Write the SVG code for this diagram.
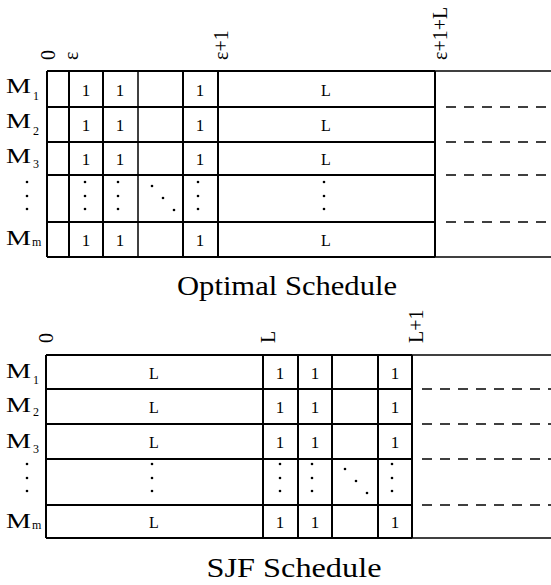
<svg xmlns="http://www.w3.org/2000/svg" width="551" height="585" viewBox="0 0 551 585">
<style>
text{font-family:"Liberation Serif","DejaVu Serif",serif;fill:#000}
.g{stroke:#000;stroke-width:2;fill:none}
.t{stroke:#000;stroke-width:1.5;fill:none}
.d{stroke:#000;stroke-width:1.5;stroke-dasharray:10 8;fill:none}
.c{font-size:17px;text-anchor:middle}
.L{font-size:16px;text-anchor:middle}
.m{font-size:20px}
.s{font-size:12px}
.r{font-size:20px}
.cap{font-size:28px;text-anchor:middle}
.dot{fill:#000}
</style>
<defs>
<g id="vd"><circle cx="0" cy="0" r="1.3" class="dot"/><circle cx="0" cy="14" r="1.3" class="dot"/><circle cx="0" cy="27" r="1.3" class="dot"/></g>
<g id="dd"><circle cx="0" cy="0" r="1.3" class="dot"/><circle cx="11" cy="12" r="1.3" class="dot"/><circle cx="22" cy="24" r="1.3" class="dot"/></g>
</defs>
<rect width="551" height="585" fill="#fff"/>

<g id="optimal">
  <g id="opt-axis">
    <text class="r" transform="translate(55,60) rotate(-90)">0</text>
    <text class="r" transform="translate(78,60) rotate(-90)">ε</text>
    <text class="r" transform="translate(228,60) rotate(-90)">ε+1</text>
    <text class="r" transform="translate(447,60) rotate(-90)">ε+1+L</text>
  </g>
  <g id="opt-grid">
    <line class="g" x1="47" y1="71" x2="435" y2="71"/>
    <line class="t" x1="435" y1="71" x2="551" y2="71"/>
    <line class="g" x1="47" y1="257" x2="435" y2="257"/>
    <line class="t" x1="435" y1="257" x2="551" y2="257"/>
    <line class="g" x1="47" y1="71" x2="47" y2="257"/>
    <line class="g" x1="69" y1="71" x2="69" y2="257"/>
    <line class="g" x1="103" y1="71" x2="103" y2="257"/>
    <line class="t" x1="138" y1="71" x2="138" y2="257"/>
    <line class="g" x1="183" y1="71" x2="183" y2="257"/>
    <line class="g" x1="218" y1="71" x2="218" y2="257"/>
    <line class="g" x1="435" y1="71" x2="435" y2="257"/>
    <line class="g" x1="47" y1="107" x2="435" y2="107"/>
    <line class="g" x1="47" y1="142" x2="435" y2="142"/>
    <line class="g" x1="47" y1="175" x2="435" y2="175"/>
    <line class="g" x1="47" y1="222" x2="435" y2="222"/>
    <line class="d" x1="446" y1="107" x2="551" y2="107"/>
    <line class="d" x1="446" y1="142" x2="551" y2="142"/>
    <line class="d" x1="446" y1="175" x2="551" y2="175"/>
    <line class="d" x1="446" y1="222" x2="551" y2="222"/>
  </g>
  <g id="opt-M1">
    <text class="m" x="6" y="93" textLength="25" lengthAdjust="spacingAndGlyphs">M</text><text class="s" x="33" y="100">1</text>
    <text class="c" x="86" y="96">1</text><text class="c" x="120" y="96">1</text><text class="c" x="200" y="96">1</text><text class="L" x="326" y="96">L</text>
  </g>
  <g id="opt-M2">
    <text class="m" x="6" y="128" textLength="25" lengthAdjust="spacingAndGlyphs">M</text><text class="s" x="33" y="135">2</text>
    <text class="c" x="86" y="131">1</text><text class="c" x="120" y="131">1</text><text class="c" x="200" y="131">1</text><text class="L" x="326" y="131">L</text>
  </g>
  <g id="opt-M3">
    <text class="m" x="6" y="163" textLength="25" lengthAdjust="spacingAndGlyphs">M</text><text class="s" x="33" y="168">3</text>
    <text class="c" x="86" y="165">1</text><text class="c" x="120" y="165">1</text><text class="c" x="200" y="165">1</text><text class="L" x="326" y="165">L</text>
  </g>
  <g id="opt-dots">
    <use href="#vd" x="27" y="182"/>
    <use href="#vd" x="85" y="182"/>
    <use href="#vd" x="118" y="182"/>
    <use href="#dd" x="152" y="186"/>
    <use href="#vd" x="198" y="182"/>
    <use href="#vd" x="324" y="182"/>
  </g>
  <g id="opt-Mm">
    <text class="m" x="6" y="245" textLength="25" lengthAdjust="spacingAndGlyphs">M</text><text class="s" x="32" y="246">m</text>
    <text class="c" x="86" y="246">1</text><text class="c" x="120" y="246">1</text><text class="c" x="200" y="246">1</text><text class="L" x="326" y="246">L</text>
  </g>
  <text class="cap" x="287" y="295" textLength="220" lengthAdjust="spacingAndGlyphs">Optimal Schedule</text>
</g>

<g id="sjf">
  <g id="sjf-axis">
    <text class="r" transform="translate(53,343) rotate(-90)">0</text>
    <text class="r" transform="translate(275,343) rotate(-90)">L</text>
    <text class="r" transform="translate(423,343) rotate(-90)">L+1</text>
  </g>
  <g id="sjf-grid">
    <line class="g" x1="46" y1="355" x2="412" y2="355"/>
    <line class="t" x1="412" y1="355" x2="551" y2="355"/>
    <line class="g" x1="46" y1="538" x2="412" y2="538"/>
    <line class="t" x1="412" y1="538" x2="551" y2="538"/>
    <line class="g" x1="46" y1="355" x2="46" y2="538"/>
    <line class="g" x1="263" y1="355" x2="263" y2="538"/>
    <line class="g" x1="298" y1="355" x2="298" y2="538"/>
    <line class="g" x1="332" y1="355" x2="332" y2="538"/>
    <line class="g" x1="378" y1="355" x2="378" y2="538"/>
    <line class="g" x1="412" y1="355" x2="412" y2="538"/>
    <line class="g" x1="46" y1="389" x2="412" y2="389"/>
    <line class="g" x1="46" y1="424" x2="412" y2="424"/>
    <line class="g" x1="46" y1="459" x2="412" y2="459"/>
    <line class="g" x1="46" y1="505" x2="412" y2="505"/>
    <line class="d" x1="422" y1="389" x2="551" y2="389"/>
    <line class="d" x1="422" y1="424" x2="551" y2="424"/>
    <line class="d" x1="422" y1="459" x2="551" y2="459"/>
    <line class="d" x1="422" y1="505" x2="551" y2="505"/>
  </g>
  <g id="sjf-M1">
    <text class="m" x="6" y="378" textLength="25" lengthAdjust="spacingAndGlyphs">M</text><text class="s" x="33" y="384">1</text>
    <text class="L" x="154" y="379">L</text><text class="c" x="280" y="379">1</text><text class="c" x="315" y="379">1</text><text class="c" x="395" y="379">1</text>
  </g>
  <g id="sjf-M2">
    <text class="m" x="6" y="412" textLength="25" lengthAdjust="spacingAndGlyphs">M</text><text class="s" x="33" y="416">2</text>
    <text class="L" x="154" y="413">L</text><text class="c" x="280" y="413">1</text><text class="c" x="315" y="413">1</text><text class="c" x="395" y="413">1</text>
  </g>
  <g id="sjf-M3">
    <text class="m" x="6" y="448" textLength="25" lengthAdjust="spacingAndGlyphs">M</text><text class="s" x="33" y="453">3</text>
    <text class="L" x="154" y="448">L</text><text class="c" x="280" y="448">1</text><text class="c" x="315" y="448">1</text><text class="c" x="395" y="448">1</text>
  </g>
  <g id="sjf-dots">
    <use href="#vd" x="27" y="464"/>
    <use href="#vd" x="152" y="464"/>
    <use href="#vd" x="280" y="464"/>
    <use href="#vd" x="312" y="464"/>
    <use href="#dd" x="345" y="469"/>
    <use href="#vd" x="392" y="464"/>
  </g>
  <g id="sjf-Mm">
    <text class="m" x="6" y="528" textLength="25" lengthAdjust="spacingAndGlyphs">M</text><text class="s" x="32" y="529">m</text>
    <text class="L" x="154" y="528">L</text><text class="c" x="280" y="528">1</text><text class="c" x="315" y="528">1</text><text class="c" x="395" y="528">1</text>
  </g>
  <text class="cap" x="294" y="577" textLength="175" lengthAdjust="spacingAndGlyphs">SJF Schedule</text>
</g>
</svg>
